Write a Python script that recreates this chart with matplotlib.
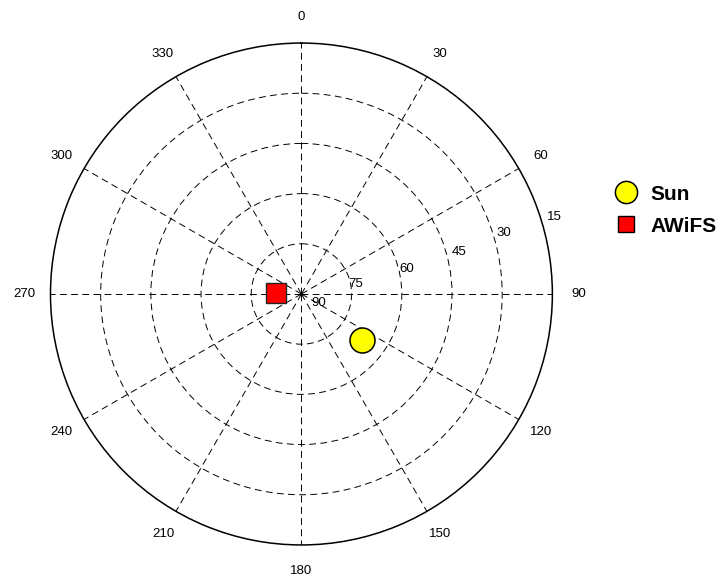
import numpy as np
import matplotlib.pyplot as plt
from matplotlib.lines import Line2D

plt.rcParams['font.family'] = ['Liberation Sans', 'DejaVu Sans']

# positions (azimuth deg, elevation deg)
sun_azimuth = 127.0
sun_elevation = 62.7
awifs_azimuth = 272.0
awifs_elevation = 80.9

azimuth_ticks = np.arange(0, 360, 30)
ring_ticks = [18, 36, 54, 72]
elev_labels = ['90', '75', '60', '45', '30', '15']
# where the elevation labels sit (compass deg, radius in plot units)
elev_label_theta = [132, 78, 75.7, 74.4, 72.6, 72.6]
elev_label_r = [4.8, 17.2, 36.3, 55.9, 73.2, 92.1]


fig = plt.figure(figsize=(7.17, 5.78), dpi=100)
ax = fig.add_axes([0.0704, 0.0571, 0.700, 0.8685], projection='polar')
ax.set_theta_zero_location('N')
ax.set_theta_direction(-1)
ax.set_ylim(0, 90)
ax.set_yticks(ring_ticks)
ax.set_yticklabels([])
ax.set_xticks(np.deg2rad(azimuth_ticks))
ax.set_xticklabels([])
ax.grid(True, color='k', linestyle=(0, (7, 4.5)), linewidth=0.7)
ax.spines['polar'].set_linewidth(1.1)

for a in azimuth_ticks:
    ax.text(np.deg2rad(a), 99.3, str(a), ha='center', va='center',
            fontsize=9.5, clip_on=False)
for lab, th, r in zip(elev_labels, elev_label_theta, elev_label_r):
    ax.text(np.deg2rad(th), r, lab, ha='left', va='center',
            fontsize=9.5, clip_on=False)

ax.plot(np.deg2rad(sun_azimuth), 90 - sun_elevation, marker='o', ms=18,
        mfc='#ffff00', mec='k', mew=1.1, ls='none', clip_on=False)
ax.plot(np.deg2rad(awifs_azimuth), 90 - awifs_elevation, marker='s', ms=14,
        mfc='#ff0000', mec='#222222', mew=1.0, ls='none', clip_on=False)

handles = [Line2D([], [], marker='o', ls='none', ms=16, mfc='#ffff00',
                  mec='k', mew=1.1, label='Sun'),
           Line2D([], [], marker='s', ls='none', ms=11, mfc='#ff0000',
                  mec='k', mew=1.0, label='AWiFS')]
fig.legend(handles=handles, loc='upper left', bbox_to_anchor=(0.847, 0.695),
           frameon=False, prop={'weight': 'bold', 'size': 15},
           handlelength=0.95, handletextpad=0.72, labelspacing=0.62,
           borderaxespad=0)

fig.savefig('out.png', dpi=100)
